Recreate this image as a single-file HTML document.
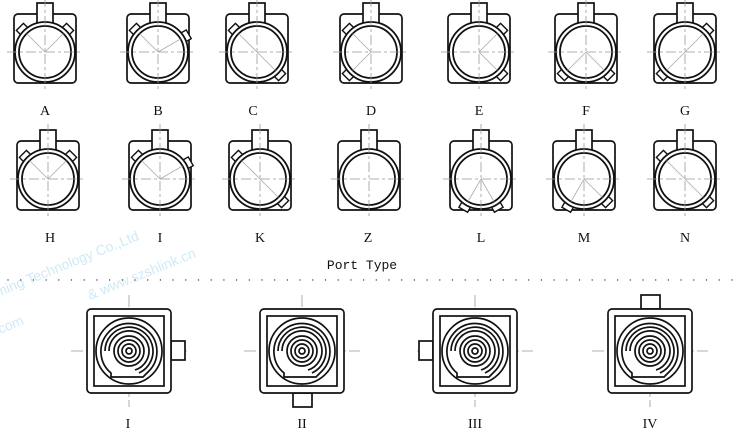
<!DOCTYPE html>
<html><head><meta charset="utf-8"><style>
html,body{margin:0;padding:0;background:#fff}
svg{display:block}
text{font-family:"Liberation Serif",serif;font-size:14px;fill:#111}
</style></head><body>
<svg id="s" width="736" height="440" viewBox="0 0 736 440" xmlns="http://www.w3.org/2000/svg">
<g font-family="Liberation Sans" font-size="22">
<text x="-10" y="300" transform="rotate(-22 -10 300)" style="fill:#cfeaf7;font-family:'Liberation Sans'">nming Technology Co.,Ltd</text>
<text x="90" y="300" transform="rotate(-22 90 300)" style="fill:#cfeaf7;font-family:'Liberation Sans'">&amp;  www.szshlink.cn</text>
<text x="-10" y="338" transform="rotate(-22 -10 338)" style="fill:#cfeaf7;font-family:'Liberation Sans'">k.com</text>
</g>
<g id="g" fill="none" stroke="#111" stroke-width="1.7"></g>
<g font-size="15" text-anchor="middle">
<text x="45" y="115">A</text><text x="158" y="115">B</text><text x="253" y="115">C</text><text x="371" y="115">D</text><text x="479" y="115">E</text><text x="586" y="115">F</text><text x="685" y="115">G</text>
<text x="50" y="242">H</text><text x="160" y="242">I</text><text x="260" y="242">K</text><text x="368" y="242">Z</text><text x="481" y="242">L</text><text x="584" y="242">M</text><text x="685" y="242">N</text>
<text x="362" y="269" style="font-family:'Liberation Mono',monospace;font-size:13px">Port Type</text>
<text x="128" y="428">I</text><text x="302" y="428">II</text><text x="475" y="428">III</text><text x="650" y="428">IV</text>
</g>
</svg>
<script>
const g=document.getElementById('g');let h='';
function L(x1,y1,x2,y2,c,w,d){h+=`<line x1="${x1}" y1="${y1}" x2="${x2}" y2="${y2}" stroke="${c||'#111'}" stroke-width="${w||1.7}" ${d?`stroke-dasharray="${d}"`:''}/>`}
function C(x,y,r,w){h+=`<circle cx="${x}" cy="${y}" r="${r}" stroke-width="${w||1.7}"/>`}
function R(x,y,w,hh,rx){h+=`<rect x="${x}" y="${y}" width="${w}" height="${hh}" rx="${rx||0}" fill="#fff"/>`}
const top1=[45,158,257,371,479,586,685],top2=[48,160,260,369,481,584,685];
function body(cx,cy,idx){
  R(cx-31,cy-37,62,69,4);
  R(cx-8,cy-48,16,24,0);
  const c=cy+1;
  const t=idx%7;
  const ang=[[135,45],[135,30],[135,-45],[135,-135],[45,-45],[-45,-135],[45,-135]][t];
  const list = idx===10?[]:(idx>=11?[[-60,-120],[-120,-45],[135,-45]][idx-11]:ang);
  list.forEach(a=>{
    const r=a*Math.PI/180,x=cx+32*Math.cos(r),y=c-32*Math.sin(r);
    h+=`<rect x="${x-5}" y="${y-3.5}" width="10" height="7" transform="rotate(${-a+90} ${x} ${y})" stroke-width="1.4" fill="#fff"/>`;
  });
  h+=`<circle cx="${cx}" cy="${c}" r="30" fill="#fff" stroke-width="1.8"/>`;C(cx,c,26,1.8);
  list.forEach(a=>{const r=a*Math.PI/180;L(cx,c,cx+26*Math.cos(r),c-26*Math.sin(r),'#aaa',0.8);});
  L(cx-38,c,cx+38,c,'#999',0.8,'10 3 3 3');L(cx,cy-54,cx,cy+38,'#999',0.8,'10 3 3 3');
}
top1.forEach((x,i)=>body(x,51,i));
top2.forEach((x,i)=>body(x,178,i+7));
for(let x=8;x<736;x+=12.7)h+=`<circle cx="${x}" cy="280" r="0.7" fill="#444" stroke="none"/>`;
const bc=[129,302,475,650],cy=351;
bc.forEach((cx,i)=>{
  L(cx-58,cy,cx+58,cy,'#999',0.8,'12 3 3 3');L(cx,cy-56,cx,cy+56,'#999',0.8,'12 3 3 3');
  const p=[[cx+42,cy-10,14,19],[cx-9,cy+42,19,14],[cx-56,cy-10,14,19],[cx-9,cy-56,19,14]][i];
  R(...p);
  R(cx-42,cy-42,84,84,4);R(cx-35,cy-35,70,70,0);
  C(cx,cy,33);
  h+=`<path d="M${cx-18} ${cy+22} A28 28 0 1 1 ${cx+20} ${cy+20} L${cx+14} ${cy+26} L${cx-18} ${cy+26}Z"/>`;
  h+=`<path d="M${cx-24} ${cy} A24 24 0 1 1 ${cx+10} ${cy+22}"/>`;
  h+=`<path d="M${cx-20} ${cy} A20 20 0 1 1 ${cx+6} ${cy+19}"/>`;
  C(cx,cy,15);C(cx,cy,11);C(cx,cy,7);C(cx,cy,3);
});
g.innerHTML=h;
</script>
</body></html>
